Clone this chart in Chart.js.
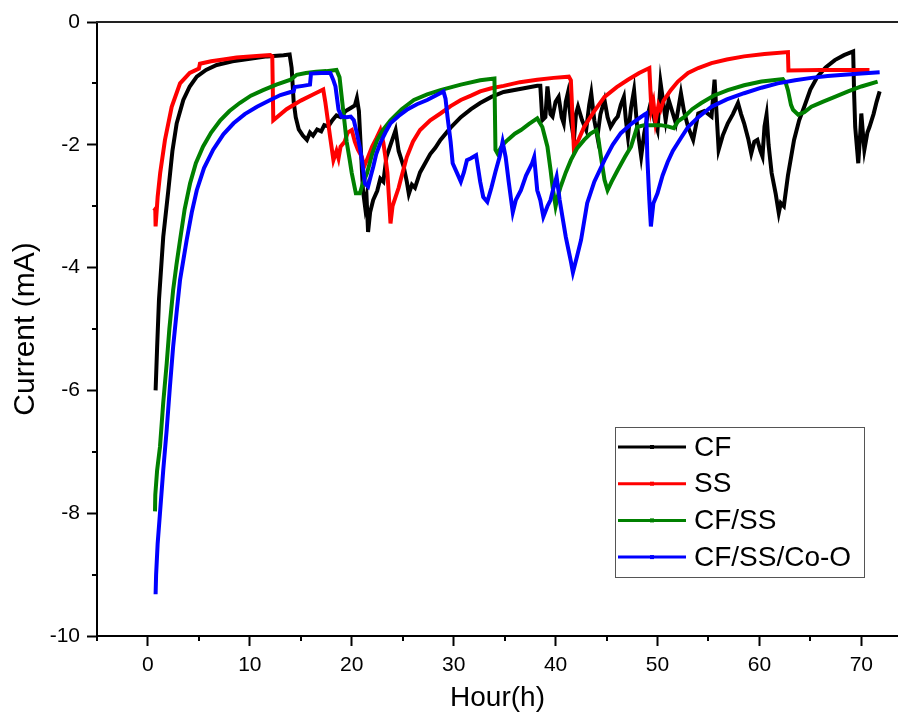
<!DOCTYPE html>
<html>
<head>
<meta charset="utf-8">
<script src="https://cdn.jsdelivr.net/npm/chart.js@4.4.1/dist/chart.umd.min.js"></script>
<style>
body { margin: 0; background: #fff; }
canvas { display: block; }
</style>
</head>
<body>
<canvas id="graficoCorrente" width="898" height="715"></canvas>
<script>
// Nomes das séries (legenda)
const series = ['CF', 'SS', 'CF/SS', 'CF/SS/Co-O'];
const colors = ['#000000', '#ff0000', '#008000', '#0000ff'];

// CF (preto)
const cfX = [0.75, 0.9, 1.08, 1.5, 2.0, 2.4, 2.82, 3.47, 4.1, 4.79, 5.7, 6.75, 8.3, 10.0, 11.7, 13.3, 13.9,
  14.1, 14.3, 14.5, 14.8, 15.2, 15.6, 15.9, 16.2, 16.6, 17.0, 17.3, 17.7, 18.1, 18.5, 18.9, 19.4, 19.9, 20.3,
  20.5, 20.7, 20.9, 21.1, 21.3, 21.45, 21.6, 21.8, 22.1, 22.5, 22.8, 23.1, 23.4, 23.8, 24.3, 24.6, 25.1, 25.4,
  25.6, 25.9, 26.2, 26.7, 27.2, 27.7, 28.2, 28.7, 29.7, 30.7, 31.7, 32.6, 33.7, 34.9, 36.5, 38.2, 38.5, 38.7,
  39.0, 39.2, 39.5, 39.7, 40.0, 40.3, 40.6, 40.8, 41.0, 41.2, 41.5, 41.8, 42.0, 42.2, 42.6, 43.0, 43.3, 43.5,
  43.8, 44.1, 44.4, 44.8, 45.1, 45.4, 45.8, 46.1, 46.4, 46.7, 46.9, 47.1, 47.4, 47.7, 48.0, 48.4, 48.7, 49.0,
  49.4, 49.7, 50.0, 50.3, 50.6, 50.8, 51.1, 51.8, 52.3, 52.6, 53.0, 53.5, 54.0, 54.6, 55.3, 55.6, 55.8, 56.0,
  56.4, 56.9, 57.4, 57.9, 58.2, 58.5, 58.9, 59.2, 59.5, 59.8, 60.1, 60.3, 60.5, 60.7, 60.9, 61.2, 61.6, 61.9,
  62.1, 62.4, 62.8, 63.4, 63.9, 64.4, 65.0, 65.7, 66.5, 67.4, 68.3, 69.2, 69.3, 69.4, 69.6, 69.7, 69.9, 70.0,
  70.2, 70.3, 70.6, 70.8, 71.2, 71.5, 71.8];
const cfY = [-6.0, -5.3, -4.53, -3.5, -2.74, -2.1, -1.65, -1.27, -1.05, -0.89, -0.78, -0.70, -0.64, -0.60, -0.56, -0.54, -0.53,
  -0.75, -1.3, -1.55, -1.75, -1.85, -1.92, -1.8, -1.85, -1.75, -1.78, -1.68, -1.7, -1.6, -1.52, -1.55, -1.45, -1.4, -1.36,
  -1.24, -1.45, -2.1, -2.74, -3.0, -2.85, -3.42, -3.1, -2.9, -2.75, -2.55, -2.6, -2.2, -2.0, -1.76, -2.1, -2.36, -2.6,
  -2.8, -2.65, -2.7, -2.45, -2.3, -2.15, -2.05, -1.92, -1.72, -1.55, -1.42, -1.32, -1.22, -1.14, -1.09, -1.04, -1.04, -1.6,
  -1.55, -1.05, -1.5, -1.54, -1.3, -1.22, -1.55, -1.65, -1.3, -1.16, -1.6, -1.92, -1.5, -1.38, -1.6, -1.76, -1.35, -1.16,
  -1.6, -1.87, -1.5, -1.27, -1.55, -1.71, -1.6, -1.54, -1.35, -1.22, -1.6, -1.87, -1.4, -1.11, -1.7, -2.19, -1.81, -1.55,
  -1.27, -1.6, -1.76, -0.99, -1.35, -1.6, -1.27, -1.65, -1.16, -1.45, -1.71, -1.92, -1.49, -1.45, -1.54, -0.94, -1.5, -2.08,
  -1.85, -1.65, -1.5, -1.32, -1.5, -1.65, -1.9, -2.14, -1.95, -1.92, -2.1, -2.19, -1.7, -1.51, -2.0, -2.46, -2.8, -3.11,
  -2.95, -3.0, -2.5, -1.92, -1.6, -1.38, -1.1, -0.89, -0.74, -0.62, -0.54, -0.48, -1.2, -1.71, -2.1, -2.3, -1.8, -1.49,
  -1.9, -2.08, -1.8, -1.71, -1.5, -1.3, -1.13];

// SS (vermelho)
const ssX = [0.55, 0.72, 0.75, 0.95, 1.2, 1.67, 2.33, 3.15, 4.1, 5.0, 5.1, 6.2, 7.4, 8.7, 10.0, 11.0, 12.0, 12.2,
  12.3, 13.6, 15.0, 16.2, 17.2, 17.4, 17.9, 18.2, 18.5, 18.7, 18.9, 19.3, 19.6, 20.0, 20.3, 20.6, 21.0, 21.2,
  21.6, 22.0, 22.4, 22.8, 23.1, 23.3, 23.5, 23.7, 23.8, 24.0, 24.3, 24.6, 24.8, 25.4, 26.0, 26.7, 27.7, 28.7,
  29.7, 30.7, 31.7, 32.6, 33.7, 34.9, 36.5, 38.2, 39.8, 41.3, 41.5, 41.8, 42.3, 42.8, 43.8, 44.8, 46.0, 47.1,
  48.2, 49.2, 49.4, 49.6, 49.8, 50.1, 50.3, 50.6, 51.3, 52.0, 53.0, 54.0, 55.3, 56.8, 58.5, 60.5, 62.8, 62.85,
  66.0, 70.8];
const ssY = [-3.03, -3.05, -3.33, -2.85, -2.46, -1.92, -1.38, -1.0, -0.83, -0.76, -0.68, -0.64, -0.61, -0.58, -0.56, -0.55, -0.54, -0.56,
  -1.6, -1.42, -1.28, -1.18, -1.1, -1.3, -1.9, -2.25, -2.1, -2.22, -2.03, -1.95, -1.8, -1.76, -1.95, -2.08, -2.2, -2.36,
  -2.2, -2.03, -1.9, -1.76, -1.97, -2.2, -2.46, -3.0, -3.28, -3.0, -2.85, -2.7, -2.57, -2.2, -1.95, -1.76, -1.6, -1.49,
  -1.37, -1.27, -1.2, -1.13, -1.08, -1.04, -0.98, -0.94, -0.91, -0.89, -0.95, -2.08, -1.9, -1.71, -1.45, -1.22, -1.06, -0.94,
  -0.83, -0.75, -1.43, -1.3, -1.62, -1.35, -1.43, -1.28, -1.11, -0.97, -0.83, -0.75, -0.67, -0.61, -0.56, -0.52, -0.49, -0.79,
  -0.78, -0.78];

// CF/SS (verde)
const cfssX = [0.69, 0.72, 0.9, 1.18, 1.5, 1.84, 2.1, 2.47, 2.8, 3.15, 3.6, 4.13, 4.7, 5.4, 6.2, 7.1, 8.0, 9.0, 10.1,
  11.3, 12.6, 14.0, 14.6, 15.5, 16.5, 17.5, 18.5, 18.8, 19.0, 19.2, 19.5, 19.8, 20.0, 20.4, 20.8, 21.1, 21.5,
  22.0, 22.5, 23.1, 23.8, 24.9, 26.1, 27.4, 28.7, 30.7, 32.6, 34.0, 34.1, 34.3, 34.8, 35.3, 36.0, 36.6, 37.4,
  38.2, 38.7, 39.2, 39.5, 39.7, 40.0, 40.2, 40.5, 41.0, 41.5, 42.1, 42.8, 43.4, 44.0, 44.2, 44.4, 44.8, 45.1,
  45.5, 46.1, 46.8, 47.4, 48.0, 48.7, 50.3, 51.0, 51.6, 52.0, 52.6, 53.4, 54.3, 55.5, 56.9, 58.5, 60.2, 61.3,
  62.3, 62.6, 62.8, 63.1, 63.3, 63.8, 64.4, 65.1, 66.2, 67.4, 68.7, 70.0, 71.6];
const cfssY = [-7.97, -7.7, -7.3, -6.92, -6.2, -5.56, -5.0, -4.37, -3.95, -3.55, -3.05, -2.63, -2.3, -2.03, -1.8, -1.6, -1.45, -1.32, -1.2,
  -1.11, -1.02, -0.94, -0.86, -0.83, -0.81, -0.8, -0.78, -0.9, -1.2, -1.5, -1.95, -2.25, -2.46, -2.79, -2.79, -2.62, -2.46,
  -2.15, -1.92, -1.75, -1.6, -1.42, -1.27, -1.18, -1.11, -1.02, -0.95, -0.92, -2.08, -2.14, -2.0, -1.92, -1.82, -1.76, -1.66,
  -1.57, -1.71, -2.03, -2.4, -2.68, -3.0, -2.85, -2.68, -2.45, -2.25, -2.06, -1.92, -1.82, -1.76, -1.9, -2.14, -2.57, -2.74,
  -2.6, -2.41, -2.2, -2.03, -1.71, -1.68, -1.68, -1.7, -1.73, -1.62, -1.55, -1.42, -1.32, -1.2, -1.11, -1.03, -0.97, -0.95,
  -0.93, -1.0, -1.11, -1.35, -1.43, -1.51, -1.47, -1.38, -1.3, -1.22, -1.13, -1.05, -0.97];

// CF/SS/Co-O (azul)
const cocX = [0.75, 0.8, 0.95, 1.18, 1.5, 1.84, 2.15, 2.47, 2.8, 3.15, 3.5, 3.8, 4.3, 4.79, 5.5, 6.4, 7.4, 8.4, 9.5,
  10.7, 12.0, 13.0, 14.0, 14.3, 14.4, 15.2, 15.9, 16.0, 17.0, 17.9, 18.2, 18.4, 18.7, 19.0, 19.5, 19.9, 20.2,
  20.5, 20.8, 21.0, 21.3, 21.6, 21.8, 22.1, 22.4, 22.8, 23.3, 23.8, 24.6, 25.4, 26.4, 27.4, 28.2, 29.0, 29.2,
  29.4, 29.7, 29.9, 30.3, 30.7, 31.0, 31.3, 31.7, 32.2, 32.6, 32.9, 33.3, 33.7, 34.1, 34.5, 34.8, 35.1, 35.4,
  35.8, 36.1, 36.6, 37.1, 37.7, 37.9, 38.2, 38.5, 38.8, 39.2, 39.5, 39.8, 40.1, 40.4, 40.7, 41.0, 41.2, 41.5,
  41.7, 41.9, 42.1, 42.5, 43.1, 43.8, 44.8, 45.6, 46.4, 47.5, 48.7, 48.9, 49.0, 49.2, 49.35, 49.6, 50.0, 50.5,
  51.0, 51.5, 52.3, 53.0, 54.0, 55.3, 56.8, 58.5, 60.2, 61.8, 63.5, 65.1, 66.7, 68.3, 70.0, 71.8];
const cocY = [-9.32, -9.0, -8.5, -8.0, -7.3, -6.64, -5.95, -5.29, -4.75, -4.2, -3.85, -3.55, -3.1, -2.74, -2.38, -2.08, -1.83, -1.65, -1.5,
  -1.38, -1.27, -1.19, -1.14, -1.13, -1.06, -1.04, -1.02, -0.84, -0.83, -0.83, -0.95, -1.05, -1.43, -1.54, -1.55, -1.54, -1.6,
  -1.81, -2.05, -2.25, -2.63, -2.68, -2.55, -2.36, -2.15, -1.97, -1.8, -1.65, -1.53, -1.43, -1.34, -1.27, -1.2, -1.13, -1.25,
  -1.55, -1.95, -2.3, -2.45, -2.6, -2.45, -2.25, -2.22, -2.17, -2.6, -2.85, -2.93, -2.7, -2.44, -2.2, -1.95, -2.2, -2.6,
  -3.1, -2.9, -2.74, -2.5, -2.3, -2.2, -2.74, -2.9, -3.17, -3.0, -2.9, -2.7, -2.52, -2.9, -3.2, -3.5, -3.66, -3.9,
  -4.08, -3.95, -3.82, -3.55, -2.95, -2.6, -2.25, -2.0, -1.81, -1.65, -1.51, -1.49, -2.2, -2.9, -3.33, -2.95, -2.79, -2.5,
  -2.28, -2.1, -1.89, -1.71, -1.55, -1.38, -1.26, -1.16, -1.07, -1.0, -0.95, -0.91, -0.88, -0.86, -0.84, -0.82];

// Marcas dos eixos
const xTicks = [0, 10, 20, 30, 40, 50, 60, 70];
const xMinorTicks = [-5, 5, 15, 25, 35, 45, 55, 65];
const yTicks = [-10, -8, -6, -4, -2, 0];
const yMinorTicks = [-9, -7, -5, -3, -1];

const fonte = 'Arial, "Liberation Sans", sans-serif';

function pontos(xs, ys) {
  return xs.map((x, i) => ({ x: x, y: ys[i] }));
}

const dadosX = [cfX, ssX, cfssX, cocX];
const dadosY = [cfY, ssY, cfssY, cocY];

// Ticks menores + borda superior
const plugEixos = {
  id: 'plugEixos',
  afterDraw(chart) {
    const ctx = chart.ctx;
    const a = chart.chartArea;
    const sx = chart.scales.x, sy = chart.scales.y;
    ctx.save();
    ctx.strokeStyle = '#000';
    ctx.lineWidth = 2;
    ctx.beginPath();
    xMinorTicks.forEach(v => {
      const px = Math.round(sx.getPixelForValue(v));
      ctx.moveTo(px, a.bottom);
      ctx.lineTo(px, a.bottom + 5);
    });
    yMinorTicks.forEach(v => {
      const py = Math.round(sy.getPixelForValue(v));
      ctx.moveTo(a.left, py);
      ctx.lineTo(a.left - 5, py);
    });
    ctx.stroke();
    ctx.strokeStyle = '#222';
    ctx.beginPath();
    ctx.moveTo(a.left - 1, a.top);
    ctx.lineTo(a.right, a.top);
    ctx.stroke();
    ctx.restore();
  }
};

// Legenda desenhada dentro da área do gráfico
const plugLegenda = {
  id: 'plugLegenda',
  afterDraw(chart) {
    const ctx = chart.ctx;
    ctx.save();
    ctx.strokeStyle = '#555';
    ctx.lineWidth = 1;
    ctx.strokeRect(615.5, 427.5, 249, 150);
    ctx.font = '28px ' + fonte;
    ctx.textBaseline = 'middle';
    ctx.textAlign = 'left';
    series.forEach((nome, i) => {
      const y = 447 + i * 36.7;
      ctx.strokeStyle = colors[i];
      ctx.lineWidth = 3;
      ctx.beginPath();
      ctx.moveTo(618, y);
      ctx.lineTo(686, y);
      ctx.stroke();
      ctx.fillStyle = colors[i];
      ctx.fillRect(650, y - 2, 4, 4);
      ctx.fillStyle = '#000';
      ctx.fillText(nome, 694, y + 1);
    });
    ctx.restore();
  }
};

const ctx = document.getElementById('graficoCorrente').getContext('2d');
const grafico = new Chart(ctx, {
  type: 'line',
  data: {
    datasets: series.map((nome, i) => ({
      label: nome,
      data: pontos(dadosX[i], dadosY[i]),
      borderColor: colors[i],
      backgroundColor: colors[i],
      borderWidth: 4,
      pointRadius: 0,
      tension: 0,
      fill: false,
      order: 4 - i
    }))
  },
  options: {
    responsive: false,
    animation: false,
    layout: { padding: { top: 22, right: 0, left: 0, bottom: 0 } },
    plugins: {
      legend: { display: false },
      tooltip: { enabled: false }
    },
    scales: {
      x: {
        type: 'linear',
        min: -5,
        max: 73.6,
        afterBuildTicks: s => { s.ticks = xTicks.map(v => ({ value: v })); },
        afterFit: s => { s.height = 79; },
        grid: { display: true, drawOnChartArea: false, drawTicks: true, tickLength: 10, tickWidth: 2, tickColor: '#000' },
        border: { display: true, color: '#000', width: 2 },
        ticks: { color: '#000', font: { size: 21, family: fonte }, padding: 7, maxRotation: 0, autoSkip: false },
        title: { display: true, text: 'Hour(h)', color: '#000', font: { size: 28, family: fonte, lineHeight: 1 }, padding: { top: 0, bottom: 3 } }
      },
      y: {
        type: 'linear',
        min: -10,
        max: 0,
        afterBuildTicks: s => { s.ticks = yTicks.map(v => ({ value: v })); },
        afterFit: s => { s.width = 97; },
        grid: { display: true, drawOnChartArea: false, drawTicks: true, tickLength: 10, tickWidth: 2, tickColor: '#000' },
        border: { display: true, color: '#000', width: 2 },
        ticks: { color: '#000', font: { size: 21, family: fonte }, padding: 7, autoSkip: false },
        title: { display: true, text: 'Current (mA)', color: '#000', font: { size: 30, family: fonte, lineHeight: 1 }, padding: { top: 11, bottom: 0 } }
      }
    }
  },
  plugins: [plugEixos, plugLegenda]
});
</script>
</body>
</html>
